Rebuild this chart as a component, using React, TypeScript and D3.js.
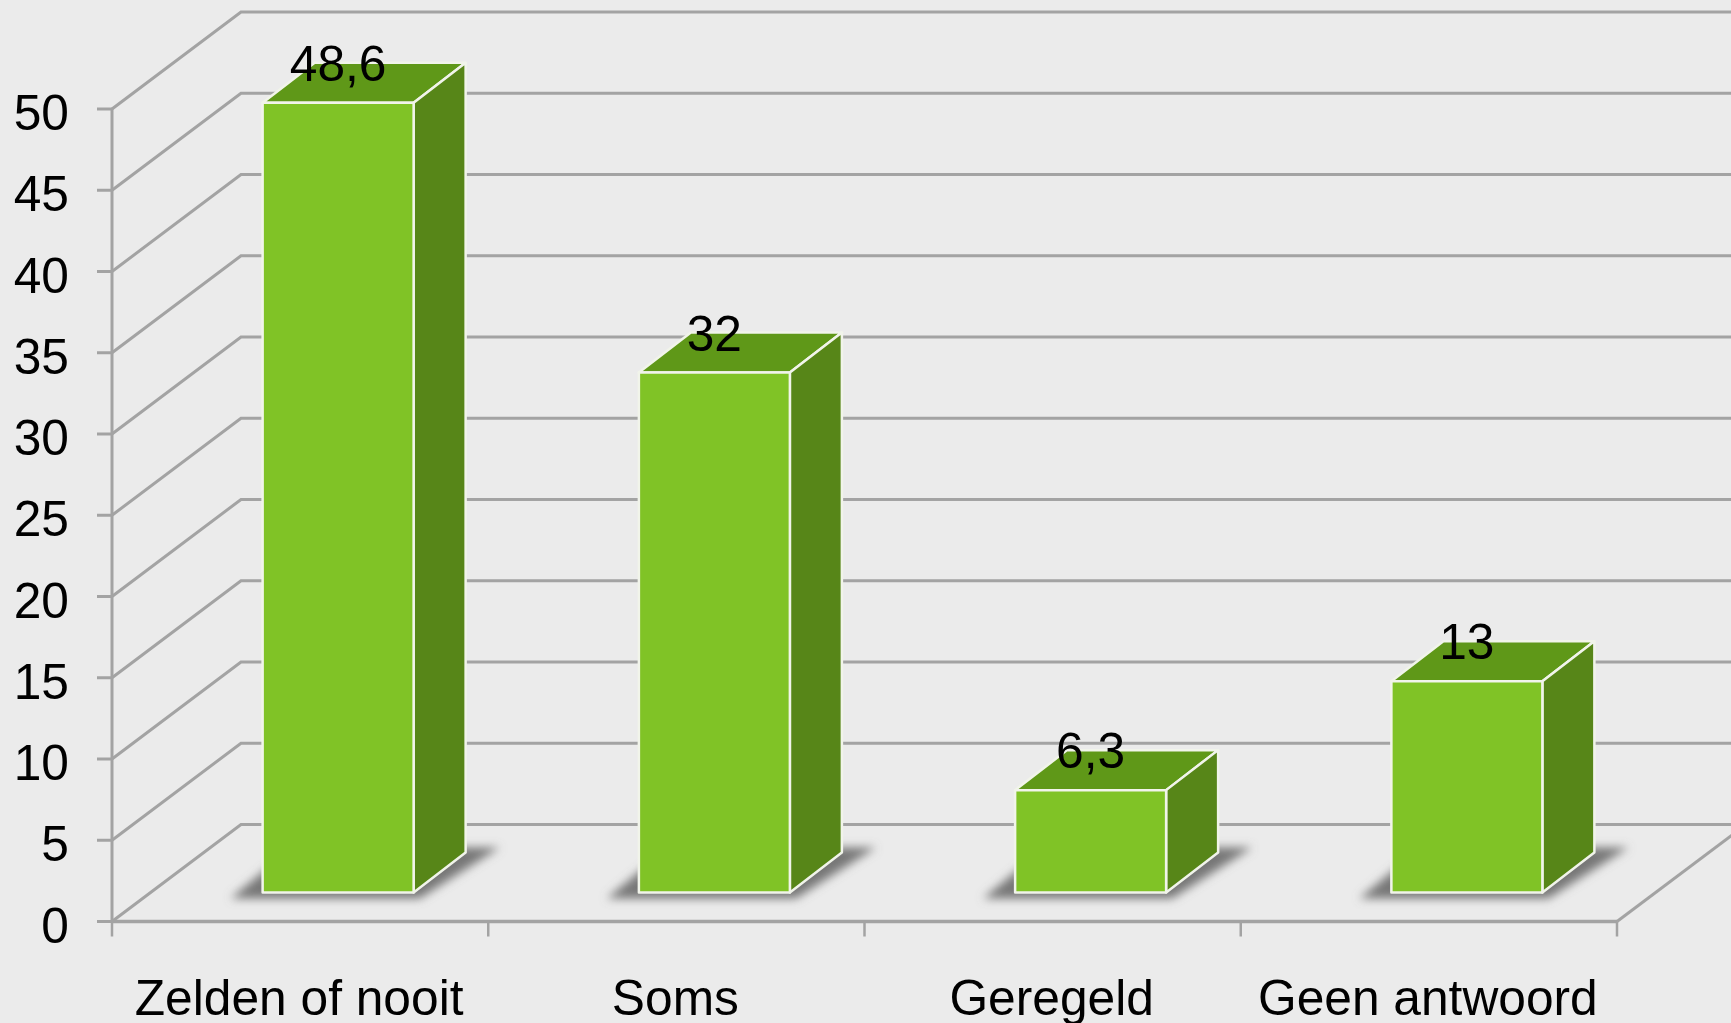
import React from 'react';
import * as d3 from 'd3';

const categories = ['Zelden of nooit', 'Soms', 'Geregeld', 'Geen antwoord'];
const values = [48.6, 32, 6.3, 13];
const valueLabels = ['48,6', '32', '6,3', '13'];
const yTicks = [0, 5, 10, 15, 20, 25, 30, 35, 40, 45, 50];

const WIDTH = 1731;
const HEIGHT = 1023;
const FONT = '"Liberation Sans", Arial, sans-serif';
const GRID = '#a3a3a3';

// 3d offsets: wall depth, and the bars sit part way into the floor
const DEPTH_X = 129;
const DEPTH_Y = 97;
const BAR_OFF_X = 38;
const BAR_OFF_Y = 29;
const BAR_DEPTH_X = 52;
const BAR_DEPTH_Y = 40;

const y = d3.scaleLinear().domain([0, 50]).range([921.5, 109]);
const x = d3.scaleBand().domain(categories).range([112, 1617]).paddingInner(0.4).paddingOuter(0.2);
const step = x.step();

const poly = (pts: number[][]) => pts.map((p) => p.join(',')).join(' ');

export default function App() {
  const [x0, x1] = x.range();
  const y0 = y(0);

  return (
    <svg
      width={WIDTH}
      height={HEIGHT}
      style={{ position: 'fixed', left: 0, top: 0, background: '#ebebeb' }}
      fontFamily={FONT}
      fontSize={49.7}
    >
      <defs>
        <filter id="blur" x="-30%" y="-50%" width="160%" height="200%">
          <feGaussianBlur stdDeviation="5" />
        </filter>
      </defs>

      {/* walls */}
      {yTicks.map((t) => (
        <g key={t} stroke={GRID} strokeWidth={3} fill="none">
          <polyline points={poly([[x0, y(t)], [x0 + DEPTH_X, y(t) - DEPTH_Y], [WIDTH, y(t) - DEPTH_Y]])} />
          <line x1={x0 - 15} x2={x0} y1={y(t)} y2={y(t)} />
        </g>
      ))}
      <line x1={x0} x2={x0} y1={y(50)} y2={y0} stroke={GRID} strokeWidth={3} />
      <line x1={x0} x2={x1} y1={y0} y2={y0} stroke={GRID} strokeWidth={3.5} />
      <line x1={x1} x2={x1 + DEPTH_X} y1={y0} y2={y0 - DEPTH_Y} stroke={GRID} strokeWidth={3} />
      {d3.range(categories.length + 1).map((i) => (
        <line
          key={i}
          x1={x0 + step * i}
          x2={x0 + step * i}
          y1={y0}
          y2={y0 + 15}
          stroke={GRID}
          strokeWidth={2.5}
        />
      ))}

      {/* bars */}
      {categories.map((c, i) => {
        const center = x0 + step * (i + 0.5) + BAR_OFF_X;
        const L = center - 75.5;
        const R = center + 75.5;
        const B = y0 - BAR_OFF_Y;
        const T = B - (y0 - y(values[i]));
        const dx = BAR_DEPTH_X;
        const dy = BAR_DEPTH_Y;
        return (
          <g key={c}>
            <polygon
              points={poly([
                [L - 32, B + 6],
                [R + 6, B + 6],
                [R + dx + 34, B - dy - 5],
                [L + 30, B - dy - 5],
              ])}
              fill="#777777"
              filter="url(#blur)"
            />
            <g stroke="#f1f4ea" strokeWidth={2.5} strokeLinejoin="round">
              <polygon points={poly([[L, T], [R, T], [R + dx, T - dy], [L + dx, T - dy]])} fill="#5f9818" />
              <polygon points={poly([[R, T], [R + dx, T - dy], [R + dx, B - dy], [R, B]])} fill="#578618" />
              <rect x={L} y={T} width={R - L} height={B - T} fill="#80c326" />
            </g>
            <text x={center} y={T - 22} textAnchor="middle" fill="#000">
              {valueLabels[i]}
            </text>
          </g>
        );
      })}

      {/* tick labels */}
      {yTicks.map((t) => (
        <text key={t} x={69} y={y(t) + 21} textAnchor="end" fill="#000">
          {t}
        </text>
      ))}
      {categories.map((c, i) => (
        <text key={c} x={x0 + step * (i + 0.5) - 1} y={1015} textAnchor="middle" fill="#000">
          {c}
        </text>
      ))}
    </svg>
  );
}
